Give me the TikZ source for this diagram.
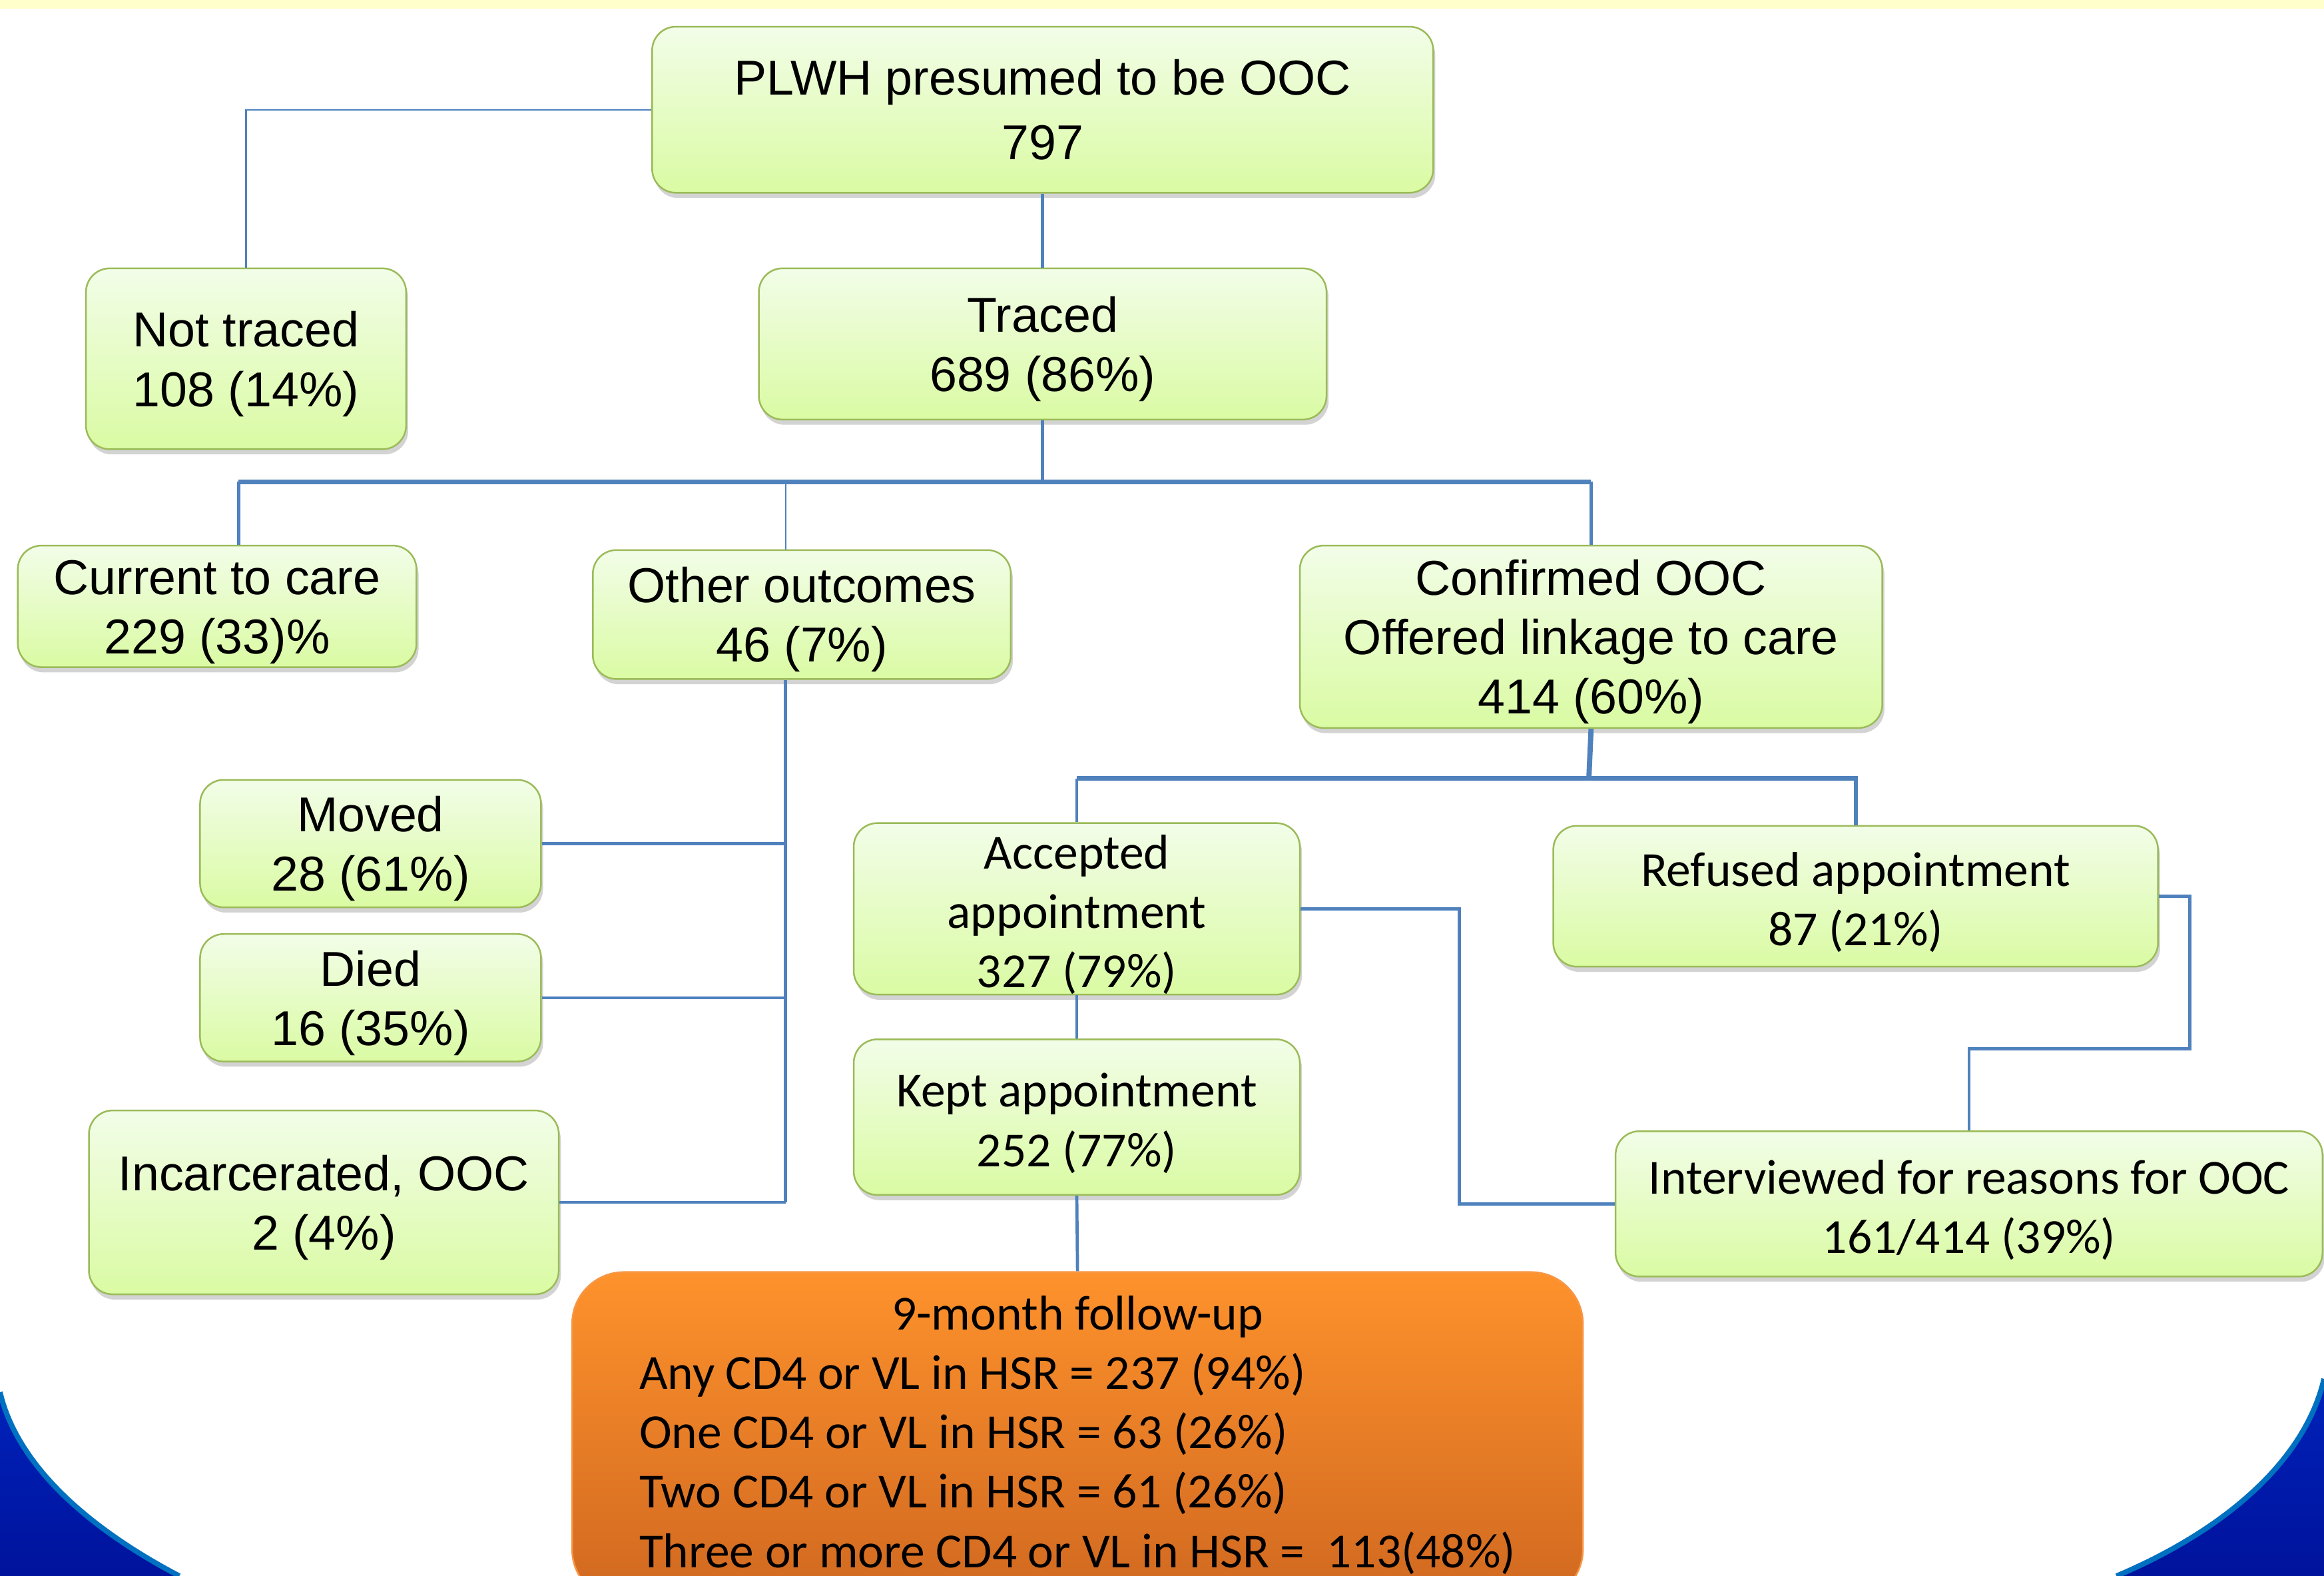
\documentclass[tikz,border=0pt]{standalone}
\usepackage{fontspec}
\newfontfamily\arialfont{Liberation Sans}
\newfontfamily\calibrifont{Carlito}
\usetikzlibrary{shadows}

\definecolor{boxtop}{RGB}{242,253,232}
\definecolor{boxbottom}{RGB}{218,251,163}
\definecolor{boxedge}{RGB}{155,187,89}
\definecolor{linkblue}{RGB}{79,129,189}
\definecolor{orangetop}{RGB}{254,146,44}
\definecolor{orangebottom}{RGB}{208,104,32}
\definecolor{orangeedge}{RGB}{247,150,70}
\definecolor{stripyellow}{RGB}{255,255,204}
\definecolor{cornertop}{RGB}{0,34,186}
\definecolor{cornerbottom}{RGB}{0,18,154}
\definecolor{corneredge}{RGB}{0,112,192}

% a little room above the first line of a box
\newcommand{\boxgap}{\rule{0pt}{22pt}}

\tikzset{
  box/.style={rounded corners=0.4cm, draw=boxedge, line width=0.8pt,
    top color=boxtop, bottom color=boxbottom, inner sep=0pt, align=center,
    drop shadow={shadow xshift=1pt, shadow yshift=-2.5pt, opacity=0.35}},
  followbox/.style={rounded corners=0.875cm, draw=orangeedge, line width=0.8pt,
    top color=orangetop, bottom color=orangebottom, inner sep=0pt},
  boxsize/.style 2 args={minimum width=#1*0.025cm, minimum height=#2*0.025cm},
  arialtext/.style={font=\arialfont\fontsize{23.5}{28.5}\selectfont},
  calibritext/.style={font=\calibrifont\fontsize{23.5}{28.5}\selectfont},
  link/.style={draw=linkblue, line width=1.5pt},
  thinlink/.style={draw=linkblue, line width=0.7pt},
  buslink/.style={draw=linkblue, line width=2pt},
  cornerfill/.style={top color=cornertop, bottom color=cornerbottom},
  cornerline/.style={draw=corneredge, line width=2.5pt},
}

\begin{document}
\begin{tikzpicture}[x=0.025cm, y=-0.025cm]
\path[use as bounding box] (0,0) rectangle (1568,1063);
\clip (0,0) rectangle (1568,1063);

% Slide background: yellow strip and the two blue corners
\fill[stripyellow] (0,-5) rectangle (1568,6);
\path[cornerfill] (-5,939) -- (0,939) .. controls (12,990) and (62,1032) .. (121,1063)
  -- (121,1070) -- (-5,1070) -- cycle;
\draw[cornerline] (0,939) .. controls (12,990) and (62,1032) .. (121,1063);
\path[cornerfill] (1573,930) -- (1568,930) .. controls (1556,982) and (1506,1030) .. (1428,1063)
  -- (1428,1070) -- (1573,1070) -- cycle;
\draw[cornerline] (1568,930) .. controls (1556,982) and (1506,1030) .. (1428,1063);

% Boxes of the tree
\node (plwh) [box, arialtext, boxsize={527}{112}] at (703.5,74) {PLWH presumed to be OOC\\[2.5pt]797};
\node (nottraced) [box, arialtext, boxsize={216}{122}] at (166,242) {\boxgap Not traced\\108 (14\%)};
\node (traced) [box, arialtext, boxsize={383}{102}] at (703.5,232) {\boxgap Traced\\689 (86\%)};
\node (current) [box, arialtext, boxsize={269}{82}] at (146.5,409) {\boxgap Current to care\\229 (33)\%};
\node (other) [box, arialtext, boxsize={282}{87}] at (541,414.5) {\boxgap Other outcomes\\46 (7\%)};
\node (confirmed) [box, arialtext, boxsize={393}{123}] at (1073.5,429.5) {\boxgap Confirmed OOC\\Offered linkage to care\\414 (60\%)};
\node (moved) [box, arialtext, boxsize={230}{86}] at (250,569) {\boxgap Moved\\28 (61\%)};
\node (died) [box, arialtext, boxsize={230}{86}] at (250,673) {\boxgap Died\\16 (35\%)};
\node (incarc) [box, arialtext, boxsize={317}{124}] at (218.5,811) {\boxgap Incarcerated, OOC\\2 (4\%)};
\node (accepted) [box, calibritext, boxsize={301}{112}] at (726.5,613) {\boxgap Accepted\\appointment\\327 (79\%)};
\node (kept) [box, calibritext, boxsize={301}{105}] at (726.5,753.5) {\boxgap Kept appointment\\252 (77\%)};
\node (refused) [box, calibritext, boxsize={408}{95}] at (1252,604.5) {\boxgap Refused appointment\\87 (21\%)};
\node (interviewed) [box, calibritext, boxsize={477}{98}] at (1328.5,812) {\boxgap Interviewed for reasons for OOC\\161/414 (39\%)};

% The follow-up box at the bottom
\node (followup) [followbox, calibritext, boxsize={682}{222}] at (727,969) {%
  \begin{tabular}{@{}l@{}}
  \multicolumn{1}{@{}c@{}}{9-month follow-up}\\
  Any CD4 or VL in HSR = 237 (94\%)\\
  One CD4 or VL in HSR = 63 (26\%)\\
  Two CD4 or VL in HSR = 61 (26\%)\\
  Three or more CD4 or VL in HSR =~ 113(48\%)
  \end{tabular}};

% Links from the first box
\draw[thinlink] (plwh.west) -| (nottraced.north);
\draw[link] (plwh.south) -- (traced.north);

% Bus below the traced box
\coordinate (tbus) at (703.5,325);
\coordinate (tbusL) at (161,325);
\coordinate (tbusO) at (530,325);
\draw[link] (traced.south) -- (tbus);
\draw[buslink] (tbusL) -- (tbus -| confirmed.north);
\draw[link] (tbusL) -- (tbusL |- current.north);
\draw[thinlink] (tbusO) -- (tbusO |- other.north);
\draw[link] (tbus -| confirmed.north) -- (confirmed.north);

% Other outcomes and its three branches
\draw[link] (tbusO |- other.south) -- (tbusO |- incarc.east);
\foreach \n in {moved, died, incarc} {
  \draw[link] (\n.east) -- (\n.east -| tbusO);
}

% Confirmed OOC and its two branches
\coordinate (cbus) at (1072,525);
\draw[buslink, line width=2.5pt] (confirmed.south) -- (cbus);
\draw[buslink] (accepted.north |- cbus) -| (refused.north);
\draw[link] (accepted.north |- cbus) -- (accepted.north);

% Appointment chain
\draw[link] (accepted.south) -- (kept.north);
\draw[link] (kept.south) -- (followup.north);
\draw[link] (accepted.east) -- ++(107,0) |- (interviewed.west);
\draw[link] (refused.east) -- ++(21,0) -- ++(0,103) -| (interviewed.north);
\end{tikzpicture}
\end{document}
